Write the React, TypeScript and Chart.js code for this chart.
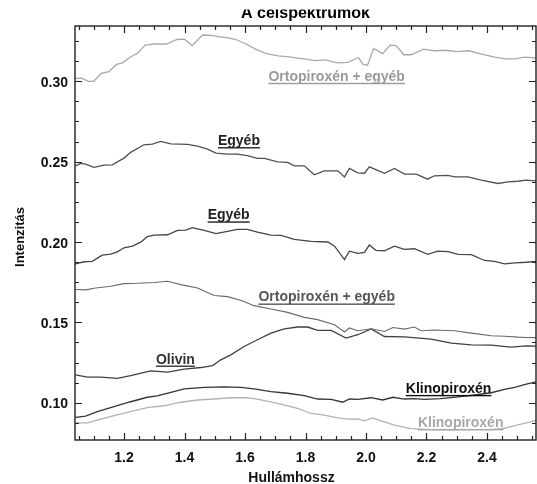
import React, { useEffect, useRef } from "react";
import { Chart, registerables } from "chart.js";

Chart.register(...registerables);

// ---- Data ----
const orthoTopX = [1.040, 1.060, 1.082, 1.100, 1.125, 1.150, 1.175, 1.195, 1.220, 1.245, 1.270, 1.300, 1.340, 1.375, 1.400, 1.425, 1.460, 1.490, 1.510, 1.545, 1.570, 1.600, 1.635, 1.670, 1.710, 1.745, 1.800, 1.830, 1.865, 1.905, 1.940, 1.975, 1.990, 2.005, 2.025, 2.055, 2.080, 2.100, 2.125, 2.150, 2.190, 2.225, 2.265, 2.300, 2.340, 2.380, 2.425, 2.460, 2.490, 2.525, 2.562];
const orthoTopY = [0.3018, 0.3020, 0.3000, 0.3000, 0.3050, 0.3060, 0.3105, 0.3115, 0.3150, 0.3175, 0.3225, 0.3232, 0.3232, 0.3260, 0.3262, 0.3222, 0.3288, 0.3285, 0.3278, 0.3270, 0.3260, 0.3235, 0.3200, 0.3172, 0.3158, 0.3152, 0.3138, 0.3128, 0.3133, 0.3115, 0.3118, 0.3148, 0.3105, 0.3100, 0.3205, 0.3172, 0.3225, 0.3222, 0.3165, 0.3165, 0.3200, 0.3190, 0.3193, 0.3185, 0.3190, 0.3170, 0.3150, 0.3140, 0.3140, 0.3150, 0.3145];

const otherUpX = [1.040, 1.057, 1.073, 1.101, 1.134, 1.161, 1.200, 1.222, 1.266, 1.294, 1.321, 1.355, 1.410, 1.443, 1.476, 1.504, 1.542, 1.575, 1.608, 1.641, 1.664, 1.708, 1.741, 1.763, 1.796, 1.829, 1.862, 1.907, 1.929, 1.945, 1.973, 1.995, 2.011, 2.061, 2.094, 2.127, 2.166, 2.204, 2.226, 2.271, 2.293, 2.337, 2.381, 2.436, 2.469, 2.502, 2.530, 2.562];
const otherUpY = [0.2474, 0.2489, 0.2485, 0.2464, 0.2478, 0.2480, 0.2522, 0.2558, 0.2605, 0.2609, 0.2626, 0.2610, 0.2608, 0.2597, 0.2578, 0.2553, 0.2547, 0.2547, 0.2537, 0.2520, 0.2520, 0.2499, 0.2495, 0.2474, 0.2474, 0.2418, 0.2443, 0.2443, 0.2405, 0.2458, 0.2430, 0.2428, 0.2468, 0.2427, 0.2458, 0.2422, 0.2422, 0.2391, 0.2412, 0.2414, 0.2405, 0.2405, 0.2385, 0.2364, 0.2374, 0.2378, 0.2385, 0.2380];

const otherLowX = [1.040, 1.068, 1.095, 1.128, 1.156, 1.178, 1.200, 1.228, 1.255, 1.277, 1.299, 1.344, 1.377, 1.404, 1.426, 1.465, 1.504, 1.542, 1.575, 1.608, 1.641, 1.686, 1.719, 1.763, 1.818, 1.874, 1.896, 1.929, 1.945, 1.973, 1.995, 2.011, 2.033, 2.061, 2.094, 2.127, 2.160, 2.204, 2.237, 2.271, 2.304, 2.348, 2.392, 2.425, 2.458, 2.491, 2.530, 2.562];
const otherLowY = [0.1864, 0.1877, 0.1880, 0.1918, 0.1924, 0.1939, 0.1964, 0.1974, 0.1999, 0.2033, 0.2043, 0.2045, 0.2072, 0.2074, 0.2089, 0.2072, 0.2052, 0.2066, 0.2079, 0.2079, 0.2062, 0.2043, 0.2041, 0.2016, 0.2004, 0.2000, 0.1974, 0.1891, 0.1943, 0.1929, 0.1935, 0.1981, 0.1948, 0.1945, 0.1974, 0.1954, 0.1958, 0.1923, 0.1943, 0.1940, 0.1923, 0.1921, 0.1885, 0.1880, 0.1864, 0.1870, 0.1874, 0.1880];

const orthoLowX = [1.040, 1.073, 1.106, 1.156, 1.200, 1.244, 1.299, 1.344, 1.388, 1.443, 1.498, 1.542, 1.586, 1.630, 1.686, 1.741, 1.796, 1.840, 1.896, 1.929, 1.945, 1.973, 2.017, 2.061, 2.089, 2.127, 2.160, 2.182, 2.226, 2.293, 2.348, 2.414, 2.458, 2.502, 2.530, 2.562];
const orthoLowY = [0.1704, 0.1702, 0.1714, 0.1725, 0.1741, 0.1743, 0.1748, 0.1756, 0.1735, 0.1714, 0.1667, 0.1660, 0.1637, 0.1604, 0.1583, 0.1562, 0.1531, 0.1517, 0.1485, 0.1440, 0.1465, 0.1448, 0.1460, 0.1443, 0.1468, 0.1458, 0.1471, 0.1448, 0.1452, 0.1448, 0.1433, 0.1417, 0.1414, 0.1408, 0.1406, 0.1405];

const olivineX = [1.040, 1.079, 1.123, 1.178, 1.222, 1.288, 1.344, 1.399, 1.454, 1.493, 1.520, 1.553, 1.597, 1.641, 1.686, 1.730, 1.774, 1.807, 1.840, 1.885, 1.934, 1.973, 2.017, 2.061, 2.127, 2.215, 2.282, 2.348, 2.414, 2.480, 2.530, 2.562];
const olivineY = [0.1173, 0.1159, 0.1159, 0.1152, 0.1169, 0.1198, 0.1190, 0.1209, 0.1219, 0.1231, 0.1267, 0.1298, 0.1350, 0.1392, 0.1433, 0.1460, 0.1471, 0.1471, 0.1450, 0.1450, 0.1402, 0.1423, 0.1459, 0.1412, 0.1410, 0.1396, 0.1371, 0.1360, 0.1358, 0.1346, 0.1354, 0.1352];

const clinoDarkX = [1.040, 1.073, 1.112, 1.167, 1.222, 1.277, 1.310, 1.355, 1.399, 1.465, 1.531, 1.586, 1.630, 1.686, 1.741, 1.796, 1.840, 1.885, 1.923, 1.945, 1.973, 2.017, 2.055, 2.089, 2.127, 2.160, 2.193, 2.248, 2.304, 2.359, 2.414, 2.458, 2.491, 2.530, 2.562];
const clinoDarkY = [0.0909, 0.0917, 0.0944, 0.0975, 0.1006, 0.1034, 0.1042, 0.1065, 0.1086, 0.1096, 0.1098, 0.1096, 0.1086, 0.1069, 0.1059, 0.1044, 0.1023, 0.1021, 0.1003, 0.1023, 0.1021, 0.1031, 0.1017, 0.1034, 0.1023, 0.1025, 0.1021, 0.1025, 0.1036, 0.1048, 0.1062, 0.1083, 0.1096, 0.1115, 0.1130];

const clinoLightX = [1.040, 1.079, 1.112, 1.167, 1.222, 1.277, 1.332, 1.388, 1.443, 1.498, 1.553, 1.608, 1.653, 1.708, 1.774, 1.818, 1.862, 1.907, 1.940, 1.973, 1.995, 2.022, 2.050, 2.094, 2.149, 2.215, 2.282, 2.348, 2.414, 2.458, 2.502, 2.530, 2.562];
const clinoLightY = [0.0875, 0.0875, 0.0892, 0.0919, 0.0944, 0.0969, 0.0981, 0.1003, 0.1017, 0.1023, 0.1031, 0.1031, 0.1017, 0.0996, 0.0965, 0.0933, 0.0923, 0.0906, 0.0898, 0.0900, 0.0887, 0.0906, 0.0887, 0.0860, 0.0839, 0.0833, 0.0831, 0.0833, 0.0833, 0.0841, 0.0862, 0.0875, 0.0889];

const xTickValues = [1.2, 1.4, 1.6, 1.8, 2.0, 2.2, 2.4];
const xMinorStep = 0.05;
const yTickValues = [0.10, 0.15, 0.20, 0.25, 0.30];
const yMinorStep = 0.0125;

const xMin = 1.038;
const xMax = 2.562;
const yMin = 0.0768;
const yMax = 0.3344;

const titleText = "A célspektrumok";
const xTitle = "Hullámhossz";
const yTitle = "Intenzitás";

// Curve labels: [text, wavelength, intensity (baseline), colour]
const curveLabels: [string, number, number, string][] = [
  ["Ortopiroxén + egyéb", 1.903, 0.3003, "#9a9a9a"],
  ["Egyéb", 1.580, 0.2603, "#222222"],
  ["Egyéb", 1.546, 0.2141, "#222222"],
  ["Ortopiroxén + egyéb", 1.870, 0.1630, "#555555"],
  ["Olivin", 1.370, 0.1244, "#333333"],
  ["Klinopiroxén", 2.273, 0.1061, "#111111"],
  ["Klinopiroxén", 2.313, 0.0849, "#a8a8a8"],
];

const FONT = '"Liberation Sans", Arial, Helvetica, sans-serif';

const pts = (xs: number[], ys: number[]) => xs.map((x, i) => ({ x, y: ys[i] }));

const decorPlugin = {
  id: "decor",
  afterDraw(chart: any) {
    const ctx = chart.ctx as CanvasRenderingContext2D;
    const area = chart.chartArea;
    const xs = chart.scales.x;
    const ys = chart.scales.y;
    ctx.save();

    // frame
    ctx.strokeStyle = "#222";
    ctx.lineWidth = 1.4;
    ctx.strokeRect(area.left, area.top, area.right - area.left, area.bottom - area.top);

    // ticks (inward, on all four sides)
    ctx.lineWidth = 1.2;
    ctx.beginPath();
    const major = 7;
    const minor = 4;
    const isMajor = (v: number, list: number[]) => list.some((t) => Math.abs(t - v) < 1e-6);
    for (let k = Math.ceil(xMin / xMinorStep); k * xMinorStep <= xMax + 1e-9; k++) {
      const v = k * xMinorStep;
      const px = Math.round(xs.getPixelForValue(v)) + 0.5;
      const len = isMajor(v, xTickValues) ? major : minor;
      ctx.moveTo(px, area.bottom);
      ctx.lineTo(px, area.bottom - len);
      ctx.moveTo(px, area.top);
      ctx.lineTo(px, area.top + len);
    }
    for (let k = Math.ceil(yMin / yMinorStep); k * yMinorStep <= yMax + 1e-9; k++) {
      const v = k * yMinorStep;
      const py = Math.round(ys.getPixelForValue(v)) + 0.5;
      const len = isMajor(v, yTickValues) ? major : minor;
      ctx.moveTo(area.left, py);
      ctx.lineTo(area.left + len, py);
      ctx.moveTo(area.right, py);
      ctx.lineTo(area.right - len, py);
    }
    ctx.stroke();

    // tick labels
    ctx.fillStyle = "#111";
    ctx.font = `bold 14px ${FONT}`;
    ctx.textBaseline = "alphabetic";
    ctx.textAlign = "center";
    xTickValues.forEach((v) => {
      ctx.fillText(v.toFixed(1), xs.getPixelForValue(v), area.bottom + 21.5);
    });
    ctx.textAlign = "right";
    yTickValues.forEach((v) => {
      ctx.fillText(v.toFixed(2), area.left - 7, ys.getPixelForValue(v) + 5.5);
    });

    // axis titles
    ctx.textAlign = "center";
    ctx.fillText(xTitle, 291.5, 481.5);
    ctx.save();
    ctx.font = `bold 13px ${FONT}`;
    ctx.translate(23.5, 237);
    ctx.rotate(-Math.PI / 2);
    ctx.fillText(yTitle, 0, 0);
    ctx.restore();

    // title (top is cut off in the reference)
    ctx.save();
    ctx.beginPath();
    ctx.rect(0, 9.5, chart.width, 20);
    ctx.clip();
    ctx.font = `bold 16px ${FONT}`;
    ctx.fillStyle = "#000";
    ctx.fillText(titleText, (area.left + area.right) / 2, 17.8);
    ctx.restore();

    // curve labels, underlined
    ctx.font = `bold 14px ${FONT}`;
    curveLabels.forEach(([txt, wx, wy, col]) => {
      const cx = xs.getPixelForValue(wx);
      const by = ys.getPixelForValue(wy);
      ctx.fillStyle = col;
      ctx.textAlign = "center";
      ctx.fillText(txt, cx, by);
      const w = ctx.measureText(txt).width;
      ctx.fillRect(cx - w / 2, by + 2, w, 1.4);
    });

    ctx.restore();
  },
};

export default function App() {
  const ref = useRef<HTMLCanvasElement | null>(null);
  useEffect(() => {
    if (!ref.current) return;
    const mk = (xs: number[], ys: number[], color: string, width: number) => ({
      data: pts(xs, ys),
      borderColor: color,
      borderWidth: width,
      pointRadius: 0,
      fill: false,
      tension: 0,
    });
    const chart = new Chart(ref.current, {
      type: "line",
      data: {
        datasets: [
          mk(orthoTopX, orthoTopY, "#a9a9a9", 1.3),
          mk(otherUpX, otherUpY, "#505050", 1.3),
          mk(otherLowX, otherLowY, "#454545", 1.3),
          mk(orthoLowX, orthoLowY, "#6a6a6a", 1.1),
          mk(olivineX, olivineY, "#404040", 1.3),
          mk(clinoDarkX, clinoDarkY, "#353535", 1.3),
          mk(clinoLightX, clinoLightY, "#b2b2b2", 1.3),
        ] as any,
      },
      options: {
        animation: false,
        responsive: false,
        devicePixelRatio: 1,
        layout: { padding: { top: 26, right: 1, left: 0, bottom: 0 } },
        plugins: { legend: { display: false }, tooltip: { enabled: false }, title: { display: false } },
        scales: {
          x: {
            type: "linear",
            min: xMin,
            max: xMax,
            grid: { display: false },
            border: { display: false },
            ticks: { display: false },
            afterFit: (s: any) => {
              s.height = 44;
            },
          },
          y: {
            type: "linear",
            min: yMin,
            max: yMax,
            grid: { display: false },
            border: { display: false },
            ticks: { display: false },
            afterFit: (s: any) => {
              s.width = 75;
            },
          },
        },
      } as any,
      plugins: [decorPlugin],
    });
    return () => chart.destroy();
  }, []);
  return (
    <div style={{ position: "fixed", left: 0, top: 0, width: 537, height: 484, background: "#fff" }}>
      <canvas ref={ref} width={537} height={484} />
    </div>
  );
}
